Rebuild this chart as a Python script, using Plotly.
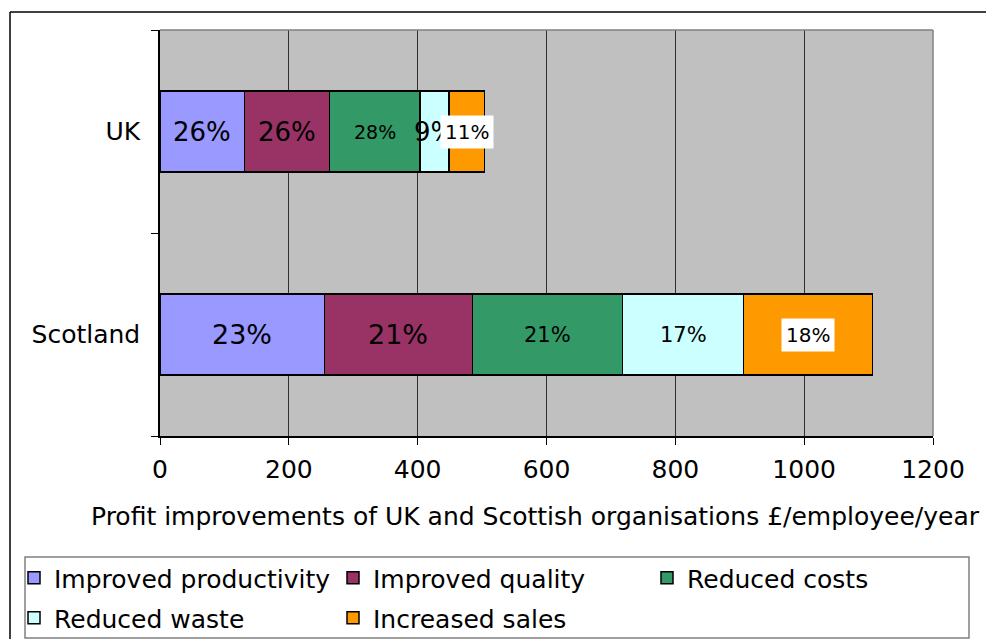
import plotly.graph_objects as go

# Profit improvement per employee per year, split by source (£)
regions = ["Scotland", "UK"]
series_names = ["Improved productivity", "Improved quality", "Reduced costs",
                "Reduced waste", "Increased sales"]
scotland_values = [255, 230, 233, 188, 200]
uk_values = [131, 132, 141, 45, 55]

x_ticks = [0, 200, 400, 600, 800, 1000, 1200]
x_title = "Profit improvements of UK and Scottish organisations £/employee/year"

# Styling
colors = ["#9999FF", "#993366", "#339966", "#CCFFFF", "#FF9900"]
FONT = "DejaVu Sans"
TEXT_SIZE = 25
# label font size and whether the label sits on a white box, per segment
label_style = {
    "UK": [(26, False), (26, False), (19, False), (26, False), (20, True)],
    "Scotland": [(27, False), (27, False), (21, False), (21, False), (20, True)],
}

# plot-area geometry in pixels (used to place the frame, title and legend)
W, H = 986, 639
L, R, T, B = 160, 53, 30, 203
PW, PH = W - L - R, H - T - B


def px_x(px):
    return (px - L) / PW


def px_y(py):
    return (H - B - py) / PH


# legend slots: (legend id, left edge px, row centre px)
legend_slots = [("legend", 14, 578), ("legend2", 333, 578), ("legend3", 647, 578),
                ("legend4", 14, 618), ("legend5", 333, 618)]

values_by_region = {"Scotland": scotland_values, "UK": uk_values}

fig = go.Figure()
for i, name in enumerate(series_names):
    fig.add_trace(go.Bar(
        y=regions,
        x=[values_by_region[r][i] for r in regions],
        name=name,
        orientation="h",
        marker=dict(color=colors[i], line=dict(color="#000000", width=1.5)),
        legend=legend_slots[i][0],
        showlegend=True,
        hoverinfo="x+name",
    ))

# percentage labels centred on each segment
annotations = []
for region in regions:
    vals = values_by_region[region]
    total = sum(vals)
    start = 0
    for i, v in enumerate(vals):
        size, boxed = label_style[region][i]
        ann = dict(
            x=start + v / 2, y=region, xref="x", yref="y",
            text=f"{round(v / total * 100)}%", showarrow=False,
            font=dict(family=FONT, size=size, color="#000000"),
        )
        if boxed:
            ann.update(bgcolor="#FFFFFF", borderpad=4)
        annotations.append(ann)
        start += v

# x-axis title
annotations.append(dict(
    x=px_x(535), y=px_y(516), xref="paper", yref="paper",
    xanchor="center", yanchor="middle", showarrow=False,
    text=x_title, font=dict(family=FONT, size=TEXT_SIZE, color="#000000"),
))

shapes = [
    # outer chart frame (top and left edges)
    dict(type="line", xref="paper", yref="paper", x0=px_x(10), x1=px_x(W + 5),
         y0=px_y(12), y1=px_y(12), line=dict(color="#000000", width=1.5)),
    dict(type="line", xref="paper", yref="paper", x0=px_x(10), x1=px_x(10),
         y0=px_y(12), y1=px_y(H + 5), line=dict(color="#000000", width=1.5)),
    # grey top and right edges of the plot area
    dict(type="line", xref="paper", yref="paper", x0=0, x1=1, y0=1, y1=1,
         line=dict(color="#808080", width=1.5)),
    dict(type="line", xref="paper", yref="paper", x0=1, x1=1, y0=0, y1=1,
         line=dict(color="#808080", width=1.5)),
    # legend box
    dict(type="rect", xref="paper", yref="paper", x0=px_x(25), x1=px_x(969),
         y0=px_y(638), y1=px_y(557), line=dict(color="#808080", width=1.5),
         fillcolor="rgba(0,0,0,0)"),
]

legend_layout = {}
for lid, left, row in legend_slots:
    legend_layout[lid] = dict(
        x=px_x(left), y=px_y(row), xanchor="left", yanchor="middle",
        orientation="h", visible=True,
        font=dict(family=FONT, size=TEXT_SIZE, color="#000000"),
        bgcolor="rgba(0,0,0,0)", borderwidth=0,
        itemclick=False, itemdoubleclick=False,
    )

fig.update_layout(
    width=W, height=H,
    showlegend=True,
    margin=dict(l=L, r=R, t=T, b=B, pad=0, autoexpand=False),
    paper_bgcolor="#FFFFFF",
    plot_bgcolor="#C0C0C0",
    barmode="stack",
    bargap=0.6,
    font=dict(family=FONT, size=TEXT_SIZE, color="#000000"),
    xaxis=dict(
        range=[0, 1200], tickvals=x_ticks, ticktext=[str(t) for t in x_ticks],
        showgrid=True, gridcolor="#303030", gridwidth=1,
        zeroline=False, showline=True, linecolor="#000000", linewidth=1.5,
        ticks="outside", ticklen=7, tickcolor="#000000", tickwidth=1,
        ticklabelstandoff=3, automargin=False,
        tickfont=dict(family=FONT, size=TEXT_SIZE),
        fixedrange=True,
    ),
    yaxis=dict(
        categoryorder="array", categoryarray=regions,
        range=[-0.5, 1.5],
        showgrid=False, zeroline=False, showline=True,
        linecolor="#000000", linewidth=1.5,
        ticks="outside", tickson="boundaries", ticklen=7,
        tickcolor="#000000", tickwidth=1,
        ticklabelstandoff=13, automargin=False,
        tickfont=dict(family=FONT, size=TEXT_SIZE),
        fixedrange=True,
    ),
    annotations=annotations,
    shapes=shapes,
    **legend_layout,
)

fig.write_html("out.html")
